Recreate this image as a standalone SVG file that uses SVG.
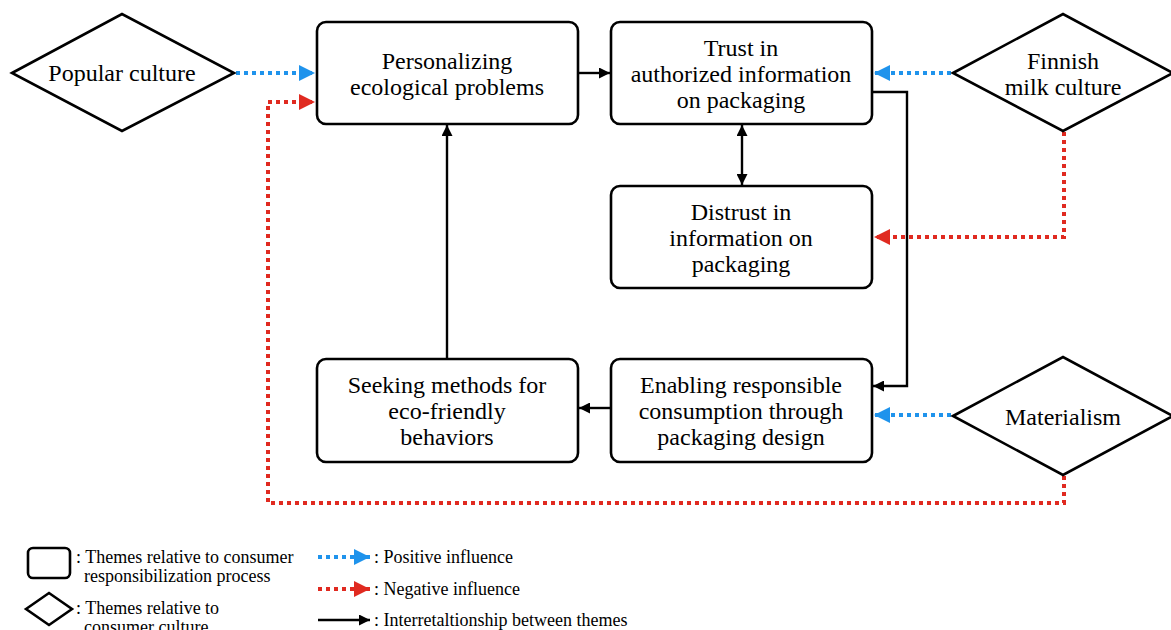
<svg xmlns="http://www.w3.org/2000/svg" width="1171" height="630" viewBox="0 0 1171 630">
<style>
.box{fill:#fff;stroke:#000;stroke-width:2.6}
.dia{fill:#fff;stroke:#000;stroke-width:2.6;stroke-linejoin:miter}
.t{font-family:"Liberation Serif",serif;font-size:24px;fill:#000;text-anchor:middle}
.lg{font-family:"Liberation Serif",serif;font-size:18px;fill:#000}
.blk{fill:none;stroke:#000;stroke-width:2.4}
.pos{fill:none;stroke:#1f93ec;stroke-width:4;stroke-dasharray:4 4}
.neg{fill:none;stroke:#e02a20;stroke-width:4;stroke-dasharray:4 4}
</style>
<defs>
<marker id="ab" viewBox="0 0 10 10" refX="10" refY="5" markerWidth="11" markerHeight="11" markerUnits="userSpaceOnUse" orient="auto-start-reverse"><path d="M0,0 L10,5 L0,10 z" fill="#000"/></marker>
<marker id="ap" viewBox="0 0 10 10" refX="10" refY="5" markerWidth="16" markerHeight="16" markerUnits="userSpaceOnUse" orient="auto"><path d="M0,0 L10,5 L0,10 z" fill="#1f93ec"/></marker>
<marker id="an" viewBox="0 0 10 10" refX="10" refY="5" markerWidth="16" markerHeight="16" markerUnits="userSpaceOnUse" orient="auto"><path d="M0,0 L10,5 L0,10 z" fill="#e02a20"/></marker>
</defs>
<rect width="1171" height="630" fill="#fff"/>
<g id="connectors">
<path class="pos" d="M236,73 H315" marker-end="url(#ap)"/>
<path class="neg" d="M1064,476 V503 H268 V102 H315" marker-end="url(#an)"/>
<path class="blk" d="M578,73 H610" marker-end="url(#ab)"/>
<path class="pos" d="M951,73 H874" marker-end="url(#ap)"/>
<path class="blk" d="M742,125 V185" marker-start="url(#ab)" marker-end="url(#ab)"/>
<path class="blk" d="M872,92 H907 V386 H873" marker-end="url(#ab)"/>
<path class="neg" d="M1064,132 V237 H874" marker-end="url(#an)"/>
<path class="pos" d="M951,415 H874" marker-end="url(#ap)"/>
<path class="blk" d="M611,408 H579" marker-end="url(#ab)"/>
<path class="blk" d="M447,358 V125" marker-end="url(#ab)"/>
<path class="pos" d="M318,557 H370" marker-end="url(#ap)"/>
<path class="neg" d="M318,589 H370" marker-end="url(#an)"/>
<path class="blk" d="M318,620 H370" marker-end="url(#ab)"/>
</g>
<g id="popular">
<polygon class="dia" points="12,73 122,14 234,73 122,131"/>
<text class="t" x="122" y="81">Popular culture</text>
</g>
<g id="personalizing">
<rect class="box" x="317" y="22" width="261" height="102" rx="9"/>
<text class="t" x="447" y="69">Personalizing</text>
<text class="t" x="447" y="95">ecological problems</text>
</g>
<g id="trust">
<rect class="box" x="611" y="22" width="261" height="102" rx="9"/>
<text class="t" x="741" y="56">Trust in</text>
<text class="t" x="741" y="82">authorized information</text>
<text class="t" x="741" y="108">on packaging</text>
</g>
<g id="finnish">
<polygon class="dia" points="953,73 1063,14 1173,73 1063,131"/>
<text class="t" x="1063" y="69">Finnish</text>
<text class="t" x="1063" y="95">milk culture</text>
</g>
<g id="distrust">
<rect class="box" x="611" y="186" width="261" height="102" rx="9"/>
<text class="t" x="741" y="220">Distrust in</text>
<text class="t" x="741" y="246">information on</text>
<text class="t" x="741" y="272">packaging</text>
</g>
<g id="seeking">
<rect class="box" x="317" y="359" width="261" height="103" rx="9"/>
<text class="t" x="447" y="393">Seeking methods for</text>
<text class="t" x="447" y="419">eco-friendly</text>
<text class="t" x="447" y="445">behaviors</text>
</g>
<g id="enabling">
<rect class="box" x="611" y="359" width="261" height="103" rx="9"/>
<text class="t" x="741" y="393">Enabling responsible</text>
<text class="t" x="741" y="419">consumption through</text>
<text class="t" x="741" y="445">packaging design</text>
</g>
<g id="materialism">
<polygon class="dia" points="953,416 1063,357 1173,416 1063,475"/>
<text class="t" x="1063" y="425">Materialism</text>
</g>
<g id="legend">
<rect class="box" x="28" y="548" width="42" height="30" rx="5"/>
<text class="lg" x="76" y="563">: Themes relative to consumer</text>
<text class="lg" x="84" y="582">responsibilization process</text>
<polygon class="dia" points="26,609 49,593 72,609 49,625"/>
<text class="lg" x="76" y="614">: Themes relative to</text>
<text class="lg" x="84" y="633">consumer culture</text>
<text class="lg" x="374" y="563">: Positive influence</text>
<text class="lg" x="374" y="595">: Negative influence</text>
<text class="lg" x="374" y="626">: Interretaltionship between themes</text>
</g>
</svg>
